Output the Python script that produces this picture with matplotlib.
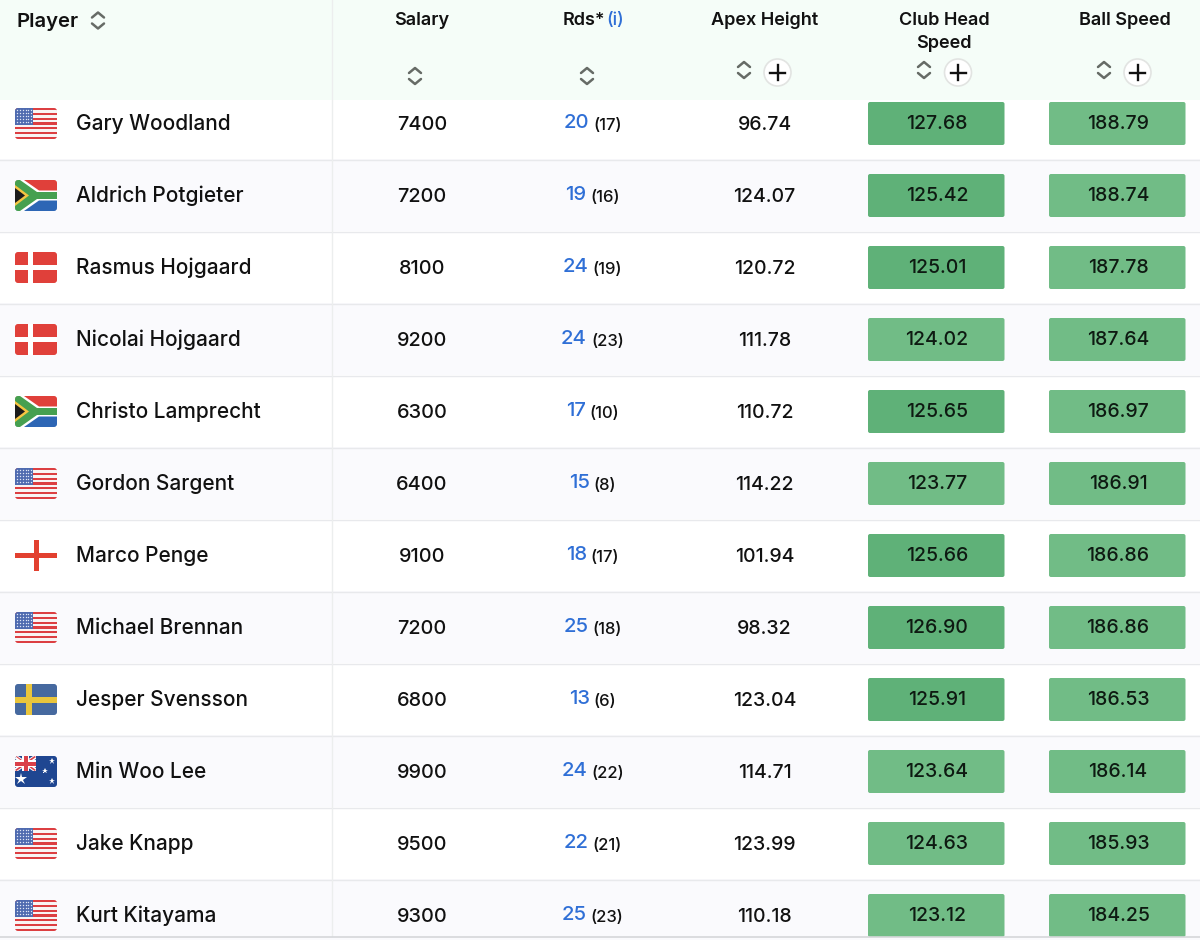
import matplotlib
matplotlib.use('Agg')
import matplotlib.pyplot as plt
from matplotlib.patches import Rectangle, FancyBboxPatch, Circle, Polygon

plt.rcParams['font.family'] = ['Inter', 'DejaVu Sans']

players = ['Gary Woodland', 'Aldrich Potgieter', 'Rasmus Hojgaard', 'Nicolai Hojgaard',
           'Christo Lamprecht', 'Gordon Sargent', 'Marco Penge', 'Michael Brennan',
           'Jesper Svensson', 'Min Woo Lee', 'Jake Knapp', 'Kurt Kitayama']
flags = ['us', 'za', 'dk', 'dk', 'za', 'us', 'en', 'us', 'se', 'au', 'us', 'us']
salary = [7400, 7200, 8100, 9200, 6300, 6400, 9100, 7200, 6800, 9900, 9500, 9300]
rounds = [20, 19, 24, 24, 17, 15, 18, 25, 13, 24, 22, 25]
rounds_sub = [17, 16, 19, 23, 10, 8, 17, 18, 6, 22, 21, 23]
apex = ['96.74', '124.07', '120.72', '111.78', '110.72', '114.22',
        '101.94', '98.32', '123.04', '114.71', '123.99', '110.18']
club_speed = ['127.68', '125.42', '125.01', '124.02', '125.65', '123.77',
              '125.66', '126.90', '125.91', '123.64', '124.63', '123.12']
ball_speed = ['188.79', '188.74', '187.78', '187.64', '186.97', '186.91',
              '186.86', '186.86', '186.53', '186.14', '185.93', '184.25']

DARK = '#5fb178'
LIGHT = '#71bc86'
BLUE = '#2f6fd6'

fig = plt.figure(figsize=(12, 9.4), dpi=100)
ax = fig.add_axes([0, 0, 1, 1])
ax.set_xlim(0, 1200)
ax.set_ylim(940, 0)
ax.axis('off')


def rounded_clip(x, y, w, h):
    p = FancyBboxPatch((x + 3, y + 3), w - 6, h - 6, boxstyle='round,pad=3',
                       fc='none', ec='none', transform=ax.transData)
    ax.add_patch(p)
    return p


def draw_flag(kind, x, y, w=42, h=31):
    clip = rounded_clip(x, y, w, h)
    items = []

    def rect(rx, ry, rw, rh, c):
        items.append(ax.add_patch(Rectangle((x + rx, y + ry), rw, rh, fc=c, ec='none', zorder=3)))

    def poly(pts, c):
        items.append(ax.add_patch(Polygon([(x + a, y + b) for a, b in pts], fc=c, ec='none', zorder=3)))

    if kind == 'us':
        n = 13
        for s in range(n):
            rect(0, s * h / n, w, h / n + 0.2, '#dc3f42' if s % 2 == 0 else '#f8f4f4')
        rect(0, 0, 18, h * 7 / 13, '#4f6bb0')
        for a in range(6):
            for b in range(5):
                items.append(ax.plot(x + 1.8 + a * 2.9, y + 1.8 + b * 3.1, marker='o', ms=1,
                                     color='#dfe6f5', mew=0, zorder=4)[0])
    elif kind == 'za':
        rect(0, 0, w, h / 2, '#e0403a')
        rect(0, h / 2, w, h / 2, '#2d66b5')
        poly([(0, 0), (9, 0), (24, 10.5), (w, 10.5), (w, 20.5), (24, 20.5), (9, h), (0, h)], '#ffffff')
        poly([(0, 0), (5, 0), (22, 12), (w, 12), (w, 19), (22, 19), (5, h), (0, h)], '#46a050')
        poly([(0, 5), (14, 15.5), (0, 26)], '#f5c542')
        poly([(0, 8), (10, 15.5), (0, 23)], '#1c1c1c')
    elif kind == 'dk':
        rect(0, 0, w, h, '#e0403a')
        rect(13, 0, 5, h, '#ffffff')
        rect(0, 13, w, 5, '#ffffff')
    elif kind == 'en':
        rect(0, 0, w, h, '#ffffff')
        rect(18.5, 0, 5, h, '#e2402f')
        rect(0, 13, w, 5, '#e2402f')
    elif kind == 'se':
        rect(0, 0, w, h, '#46699f')
        rect(11, 0, 6, h, '#e9c53c')
        rect(0, 12.5, w, 6, '#e9c53c')
    elif kind == 'au':
        rect(0, 0, w, h, '#1f4691')
        poly([(0, 0), (3, 0), (21, 12), (21, 15), (18, 15), (0, 3)], '#ffffff')
        poly([(18, 0), (21, 0), (21, 3), (3, 15), (0, 15), (0, 12)], '#ffffff')
        poly([(0, 0), (1.5, 0), (21, 14), (19.5, 15)], '#d9404a')
        poly([(19.5, 0), (21, 1), (1.5, 15), (0, 14)], '#d9404a')
        rect(7, 0, 7, 15, '#ffffff')
        rect(0, 4, 21, 7, '#ffffff')
        rect(8.5, 0, 4, 15, '#d9404a')
        rect(0, 5.5, 21, 4, '#d9404a')
        for sx, sy, ms in [(6, 23, 9), (37, 5, 5), (37, 25, 5), (30, 15, 4)]:
            items.append(ax.plot(x + sx, y + sy, marker='*', ms=ms, color='white', mew=0, zorder=4)[0])
    for it in items:
        it.set_clip_path(clip)


def sort_icon(cx, cy):
    for sgn in (-1, 1):
        ax.plot([cx - 6, cx, cx + 6], [cy + sgn * 3, cy + sgn * 8, cy + sgn * 3],
                color='#666b66', lw=1.8, zorder=4, solid_capstyle='round')


def plus_icon(cx, cy):
    ax.add_patch(Circle((cx, cy), 13.5, fc='white', ec='#e2e4e2', lw=1.2, zorder=3))
    ax.plot([cx - 7.5, cx + 7.5], [cy, cy], color='#111111', lw=1.7, zorder=4)
    ax.plot([cx, cx], [cy - 7.5, cy + 7.5], color='#111111', lw=1.7, zorder=4)


# header band
ax.add_patch(Rectangle((0, 0), 1200, 100, fc='#f5fdf8', ec='none', zorder=1))

# rows
for i in range(len(players)):
    top = 87 + 72 * i
    if i % 2 == 1:
        ax.add_patch(Rectangle((0, top), 1200, 72, fc='#fafafd', ec='none', zorder=0))
    if i > 0:
        ax.plot([0, 1200], [top + 0.5, top + 0.5], color='#e8e9ec', lw=1, zorder=1)
ax.plot([0, 1200], [936.5, 936.5], color='#d5d7da', lw=1.2, zorder=5)
ax.plot([331.5, 331.5], [0, 936], color='#eceeee', lw=1, zorder=2)

name_fs = 15
num_fs = 14
for i, name in enumerate(players):
    yc = 123 + 72 * i
    draw_flag(flags[i], 15, 108 + 72 * i)
    ax.text(76, yc + 0.5, name, fontsize=name_fs, weight='medium', va='center', ha='left', color='#111111', zorder=4)
    ax.text(422, yc + 1.5, str(salary[i]), fontsize=14.3, weight='medium', va='center', ha='center', color='#111111', zorder=4)
    ax.text(764.5, yc + 1.5, apex[i], fontsize=num_fs, weight='medium', va='center', ha='center', color='#111111', zorder=4)

    # rounds: blue count followed by smaller bracket count, centred as one group
    t1 = ax.text(0, yc + 0.5, str(rounds[i]), fontsize=14.6, weight='medium', va='center', ha='left', color=BLUE, zorder=4)
    t2 = ax.text(0, yc + 2, '(%d)' % rounds_sub[i], fontsize=12, weight='medium', va='center', ha='left', color='#111111', zorder=4)
    r = fig.canvas.get_renderer()
    w1 = t1.get_window_extent(r).width
    w2 = t2.get_window_extent(r).width
    x0 = 592.5 - (w1 + 4 + w2) / 2
    t1.set_x(x0)
    t2.set_x(x0 + w1 + 4)

    for left, val in ((868, club_speed[i]), (1049, ball_speed[i])):
        col = DARK if left == 868 and float(val) >= 125 else LIGHT
        ax.add_patch(FancyBboxPatch((left + 2, 104 + 72 * i), 132.5, 39, boxstyle='round,pad=2',
                                    fc=col, ec='none', zorder=2))
        ax.text(left + 69, yc + 1, val, fontsize=num_fs, weight='medium', va='center', ha='center',
                color='#0e1a12', zorder=4)

# header text
hs = 13
ax.text(17, 22, 'Player', fontsize=14.6, weight='semibold', va='center', ha='left', color='#111111', zorder=4)
sort_icon(98, 20.5)
ax.text(422, 20.5, 'Salary', fontsize=hs, weight='semibold', va='center', ha='center', color='#111111', zorder=4)
sort_icon(415, 76)
ax.text(563, 20.5, 'Rds*', fontsize=hs, weight='semibold', va='center', ha='left', color='#111111', zorder=4)
ax.text(606, 20.5, '(i)', fontsize=hs, weight='medium', va='center', ha='left', color=BLUE, zorder=4)
sort_icon(587, 76)
ax.text(764.5, 20.5, 'Apex Height', fontsize=hs, weight='semibold', va='center', ha='center', color='#111111', zorder=4)
sort_icon(744, 70)
plus_icon(777.5, 72.5)
ax.text(944, 20.5, 'Club Head', fontsize=hs, weight='semibold', va='center', ha='center', color='#111111', zorder=4)
ax.text(944, 43.5, 'Speed', fontsize=hs, weight='semibold', va='center', ha='center', color='#111111', zorder=4)
sort_icon(924, 70)
plus_icon(958, 72.5)
ax.text(1124.5, 20.5, 'Ball Speed', fontsize=hs, weight='semibold', va='center', ha='center', color='#111111', zorder=4)
sort_icon(1104, 70)
plus_icon(1137.5, 72.5)

plt.savefig('out.png', dpi=100)
